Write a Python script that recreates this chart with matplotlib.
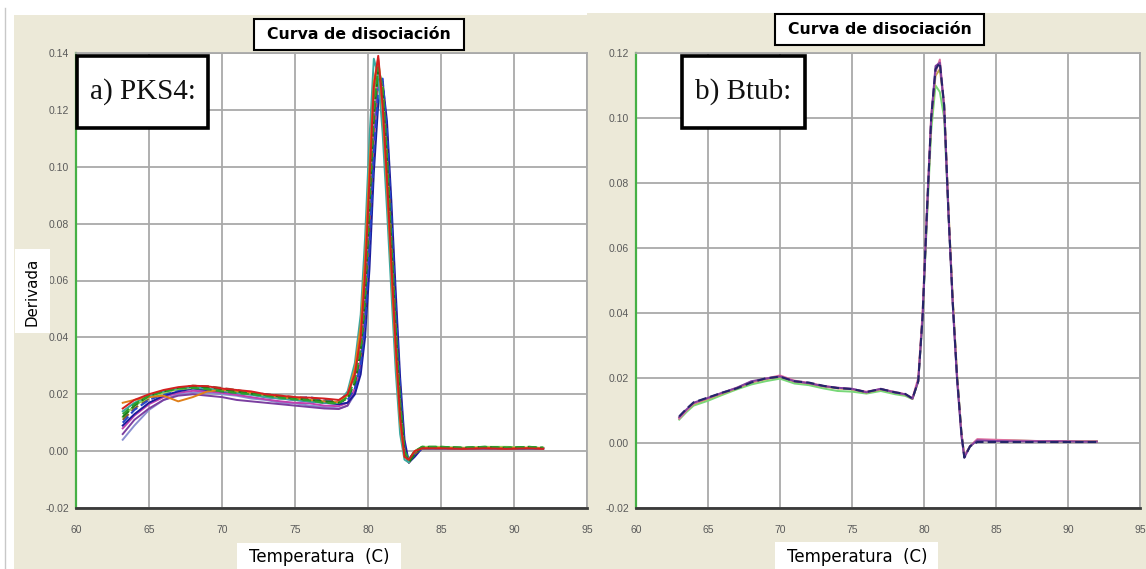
import matplotlib
matplotlib.use("Agg")
import matplotlib.pyplot as plt
from matplotlib.patches import Rectangle
from matplotlib.lines import Line2D
from matplotlib.ticker import MultipleLocator, FuncFormatter

W, H = 1146, 569

# ---------------- data ----------------
T_PKS4 = [63.2, 64.0, 65.0, 66.0, 67.0, 68.0, 69.0, 70.0, 71.0, 72.0, 73.0, 74.0, 75.0, 76.0,
          77.0, 78.0, 78.6, 79.1, 79.5, 79.8, 80.1, 80.4, 80.7, 81.0, 81.3, 81.6, 81.9, 82.2,
          82.5, 82.8, 83.2, 83.7, 85.0, 86.5, 88.0, 89.5, 91.0, 92.0]

pks4_red = [0.015, 0.018, 0.020, 0.0215, 0.0225, 0.023, 0.0228, 0.022, 0.0215, 0.021, 0.020, 0.0195,
            0.019, 0.0188, 0.0185, 0.018, 0.020, 0.027, 0.040, 0.062, 0.095, 0.128, 0.139, 0.122,
            0.096, 0.066, 0.037, 0.012, -0.002, -0.003, 0.000, 0.001, 0.001, 0.0008, 0.001, 0.0008,
            0.001, 0.0008]
pks4_green = [0.013, 0.0165, 0.0195, 0.021, 0.022, 0.0222, 0.0218, 0.021, 0.0205, 0.020, 0.0195,
              0.0188, 0.0182, 0.0178, 0.017, 0.0168, 0.019, 0.025, 0.036, 0.056, 0.088, 0.120, 0.135,
              0.128, 0.103, 0.072, 0.042, 0.016, 0.000, -0.003, 0.000, 0.0015, 0.0015, 0.0012, 0.0015,
              0.0012, 0.0015, 0.0012]
pks4_blue = [0.010, 0.0145, 0.018, 0.020, 0.0215, 0.0225, 0.0225, 0.022, 0.021, 0.0205, 0.020, 0.019,
             0.0185, 0.019, 0.0178, 0.0172, 0.018, 0.022, 0.030, 0.045, 0.072, 0.105, 0.127, 0.131,
             0.112, 0.082, 0.050, 0.022, 0.002, -0.004, -0.001, 0.001, 0.0012, 0.001, 0.0012, 0.001,
             0.001, 0.001]
pks4_navy = [0.009, 0.013, 0.017, 0.0195, 0.021, 0.022, 0.0215, 0.021, 0.0205, 0.020, 0.019, 0.0185,
             0.018, 0.0175, 0.017, 0.0165, 0.017, 0.020, 0.027, 0.040, 0.064, 0.098, 0.122, 0.130,
             0.116, 0.088, 0.056, 0.026, 0.004, -0.004, -0.002, 0.001, 0.001, 0.001, 0.001, 0.001,
             0.001, 0.001]
pks4_purple = [0.006, 0.011, 0.015, 0.018, 0.0195, 0.020, 0.0195, 0.019, 0.018, 0.0175, 0.017, 0.0165,
               0.016, 0.0155, 0.015, 0.0148, 0.016, 0.021, 0.031, 0.050, 0.080, 0.112, 0.130, 0.128,
               0.108, 0.078, 0.047, 0.020, 0.001, -0.004, -0.001, 0.001, 0.001, 0.001, 0.001, 0.001,
               0.001, 0.001]
pks4_orange = [0.017, 0.018, 0.019, 0.0195, 0.0175, 0.019, 0.021, 0.0215, 0.021, 0.0205, 0.0198, 0.019,
               0.0185, 0.018, 0.0175, 0.0172, 0.020, 0.029, 0.044, 0.068, 0.100, 0.130, 0.138, 0.120,
               0.093, 0.063, 0.034, 0.010, -0.002, -0.003, 0.000, 0.001, 0.0012, 0.001, 0.0012, 0.001,
               0.0012, 0.001]
pks4_teal = [0.014, 0.017, 0.0195, 0.021, 0.0222, 0.0225, 0.022, 0.0212, 0.0205, 0.0198, 0.019, 0.0185,
             0.018, 0.0175, 0.017, 0.017, 0.021, 0.031, 0.048, 0.075, 0.110, 0.138, 0.132, 0.112,
             0.085, 0.056, 0.028, 0.006, -0.003, -0.004, 0.000, 0.001, 0.001, 0.001, 0.001, 0.001,
             0.001, 0.001]
pks4_lime = [0.012, 0.016, 0.019, 0.0205, 0.0218, 0.0222, 0.022, 0.0212, 0.0208, 0.020, 0.0192, 0.0185,
             0.0182, 0.0178, 0.0172, 0.017, 0.0195, 0.027, 0.040, 0.060, 0.092, 0.124, 0.137, 0.126,
             0.100, 0.069, 0.039, 0.014, -0.001, -0.003, 0.000, 0.0015, 0.0015, 0.0012, 0.0015, 0.0015,
             0.0012, 0.0012]
pks4_brown = [0.011, 0.015, 0.0185, 0.0205, 0.022, 0.023, 0.0228, 0.0222, 0.0215, 0.0205, 0.020, 0.0195,
              0.019, 0.0185, 0.018, 0.0175, 0.019, 0.024, 0.034, 0.052, 0.082, 0.115, 0.133, 0.129,
              0.106, 0.076, 0.045, 0.018, 0.000, -0.004, -0.001, 0.001, 0.001, 0.001, 0.001, 0.001,
              0.001, 0.001]
pks4_magenta = [0.008, 0.0125, 0.0165, 0.019, 0.0205, 0.0212, 0.021, 0.0205, 0.0198, 0.019, 0.0182,
                0.0175, 0.017, 0.0168, 0.016, 0.0158, 0.017, 0.022, 0.032, 0.050, 0.079, 0.111, 0.131,
                0.129, 0.109, 0.080, 0.049, 0.021, 0.001, -0.004, -0.001, 0.0008, 0.0008, 0.0008,
                0.0008, 0.0008, 0.0008, 0.0008]
pks4_lavender = [0.004, 0.009, 0.0145, 0.018, 0.020, 0.0205, 0.0205, 0.020, 0.0195, 0.0185, 0.018,
                 0.017, 0.0168, 0.016, 0.0155, 0.015, 0.016, 0.020, 0.029, 0.046, 0.076, 0.110, 0.132,
                 0.130, 0.110, 0.080, 0.048, 0.020, 0.001, -0.004, -0.001, 0.001, 0.001, 0.001, 0.001,
                 0.001, 0.001, 0.001]
pks4_darkgreen = [0.012, 0.016, 0.0195, 0.021, 0.0222, 0.0228, 0.0225, 0.0218, 0.021, 0.0202, 0.0198,
                  0.0192, 0.0185, 0.018, 0.0175, 0.017, 0.0185, 0.024, 0.035, 0.054, 0.086, 0.119,
                  0.134, 0.127, 0.103, 0.073, 0.043, 0.017, 0.000, -0.004, -0.001, 0.0015, 0.0015,
                  0.0012, 0.0015, 0.0012, 0.0015, 0.0012]

T_BTUB = [63.0, 63.5, 64.0, 65.0, 66.0, 67.0, 68.0, 69.0, 70.0, 71.0, 72.0, 73.0, 74.0, 75.0, 76.0,
          77.0, 78.0, 78.7, 79.2, 79.6, 79.9, 80.2, 80.5, 80.8, 81.1, 81.4, 81.7, 82.0, 82.3, 82.6,
          82.8, 83.2, 83.7, 85.0, 86.5, 88.0, 89.5, 91.0, 92.0]

btub_pink = [0.0075, 0.0100, 0.0122, 0.0138, 0.0154, 0.0170, 0.0188, 0.0198, 0.0208, 0.0192, 0.0185,
             0.0176, 0.0170, 0.0166, 0.0158, 0.0166, 0.0157, 0.0150, 0.0138, 0.020, 0.040, 0.072,
             0.101, 0.114, 0.118, 0.104, 0.071, 0.043, 0.020, 0.003, -0.004, -0.001, 0.0012, 0.0010,
             0.0008, 0.0006, 0.0006, 0.0005, 0.0005]
btub_purple = [0.0080, 0.0103, 0.0124, 0.0139, 0.0155, 0.0170, 0.0190, 0.0198, 0.0205, 0.0190, 0.0184,
               0.0175, 0.0170, 0.0167, 0.0156, 0.0167, 0.0155, 0.0150, 0.0136, 0.019, 0.038, 0.070,
               0.100, 0.116, 0.117, 0.103, 0.070, 0.042, 0.019, 0.002, -0.0045, -0.001, 0.0008,
               0.0006, 0.0005, 0.0005, 0.0005, 0.0004, 0.0004]
btub_navy = [0.0082, 0.0105, 0.0125, 0.0140, 0.0155, 0.0168, 0.0186, 0.0199, 0.0204, 0.0190, 0.0186,
             0.0176, 0.0169, 0.0166, 0.0157, 0.0166, 0.0156, 0.0151, 0.0137, 0.019, 0.039, 0.071,
             0.100, 0.115, 0.117, 0.104, 0.071, 0.043, 0.020, 0.003, -0.0045, -0.001, 0.0003, 0.0003,
             0.0003, 0.0003, 0.0003, 0.0003, 0.0003]
btub_green = [0.0072, 0.0095, 0.0115, 0.0130, 0.0148, 0.0165, 0.0180, 0.0190, 0.0198, 0.0183, 0.0178,
              0.0168, 0.0160, 0.0158, 0.0152, 0.0160, 0.0150, 0.0145, 0.0135, 0.019, 0.038, 0.068,
              0.096, 0.110, 0.108, 0.100, 0.070, 0.043, 0.020, 0.003, -0.004, -0.001, 0.0008, 0.0008,
              0.0007, 0.0006, 0.0006, 0.0005, 0.0005]
btub_olive = [0.0078, 0.0100, 0.0120, 0.0136, 0.0152, 0.0168, 0.0186, 0.0196, 0.0204, 0.0189, 0.0183,
              0.0174, 0.0168, 0.0165, 0.0155, 0.0165, 0.0155, 0.0149, 0.0136, 0.019, 0.039, 0.070,
              0.099, 0.113, 0.115, 0.104, 0.072, 0.044, 0.021, 0.003, -0.004, -0.001, 0.0010, 0.0008,
              0.0007, 0.0006, 0.0005, 0.0005, 0.0005]

X_TICKS = [60, 65, 70, 75, 80, 85, 90, 95]
TITLE = "Curva de disociación"
X_LABEL = "Temperatura  (C)"
Y_LABEL = "Derivada"

pks4_series = [
    (pks4_lavender, "#8a8fd0", "-"),
    (pks4_purple, "#7b3fa0", "-"),
    (pks4_magenta, "#c040b0", "-"),
    (pks4_navy, "#1c1c9c", "-"),
    (pks4_brown, "#8b5a2b", "--"),
    (pks4_blue, "#2846c8", "--"),
    (pks4_lime, "#8fd35a", "-"),
    (pks4_teal, "#3aa8a0", "-"),
    (pks4_orange, "#e0801a", "-"),
    (pks4_darkgreen, "#1a7a1a", "--"),
    (pks4_green, "#2ca02c", "--"),
    (pks4_red, "#d42020", "-"),
]
btub_series = [
    (btub_green, "#78d878", "-"),
    (btub_olive, "#b8a848", "-"),
    (btub_pink, "#e070a0", "-"),
    (btub_purple, "#8040a0", "-"),
    (btub_navy, "#25256a", "--"),
]

# ---------------- figure ----------------
fig = plt.figure(figsize=(W / 100, H / 100), dpi=100)
fig.patch.set_facecolor("white")

BEIGE = "#ece9d8"
GRID = "#a9a9a9"


def fx(px):
    return px / W


def fy(py):
    return 1 - py / H


def frect(x0, y0, x1, y1, **kw):
    r = Rectangle((fx(x0), fy(y1)), fx(x1) - fx(x0), fy(y0) - fy(y1),
                  transform=fig.transFigure, **kw)
    fig.add_artist(r)
    return r


# window backgrounds
frect(14, 15, 587, H, facecolor=BEIGE, edgecolor="none", zorder=0)
frect(587, 13, W, H, facecolor=BEIGE, edgecolor="none", zorder=0)
fig.add_artist(Line2D([fx(5), fx(5)], [fy(8), fy(H)], transform=fig.transFigure,
                      color="#c8c8c8", lw=1.0, zorder=1))

tick_family = ["Liberation Sans Narrow", "Liberation Sans", "DejaVu Sans"]


def make_axes(px_left, px_right, ymax, series, xdata):
    ax = fig.add_axes([fx(px_left), fy(508), fx(px_right) - fx(px_left), fy(53) - fy(508)])
    ax.set_facecolor("white")
    for ys, col, ls in series:
        if ls == "--":
            ax.plot(xdata, ys, color=col, lw=1.5, dashes=(4, 2), zorder=3)
        else:
            ax.plot(xdata, ys, color=col, lw=1.4, zorder=3)
    ax.set_xlim(60, 95)
    ax.set_ylim(-0.02, ymax)
    ax.set_xticks(X_TICKS)
    ax.yaxis.set_major_locator(MultipleLocator(0.02))
    ax.yaxis.set_major_formatter(FuncFormatter(lambda v, p: f"{v:.2f}"))
    ax.grid(True, color=GRID, lw=1.3, zorder=1)
    ax.set_axisbelow(True)
    ax.tick_params(length=0, pad=5)
    ax.tick_params(axis="x", pad=12)
    for lab in ax.get_xticklabels() + ax.get_yticklabels():
        lab.set_fontfamily(tick_family)
        lab.set_fontsize(7.5)
        lab.set_color("#5a5a5a")
    ax.spines["left"].set_color("#45b045")
    ax.spines["left"].set_linewidth(1.6)
    ax.spines["bottom"].set_color("#3a3a3a")
    ax.spines["bottom"].set_linewidth(2.0)
    for s in ("top", "right"):
        ax.spines[s].set_color(GRID)
        ax.spines[s].set_linewidth(1.3)
    return ax


ax1 = make_axes(76, 587, 0.14, pks4_series, T_PKS4)
ax2 = make_axes(636, 1140, 0.12, btub_series, T_BTUB)


def boxed_text(x0, y0, x1, y1, text, lw, **tkw):
    frect(x0, y0, x1, y1, facecolor="white", edgecolor="black", lw=lw, zorder=10)
    fig.text(fx((x0 + x1) / 2), fy((y0 + y1) / 2), text, ha="center", va="center",
             zorder=11, **tkw)


title_kw = dict(family="DejaVu Sans", fontweight="bold", fontsize=11.3, color="black")
boxed_text(254, 19, 464, 50, TITLE, 1.5, **title_kw)
boxed_text(775, 14, 984, 45, TITLE, 1.5, **title_kw)

panel_kw = dict(family=["Liberation Serif", "DejaVu Serif"], fontsize=21, color="#111111")
boxed_text(77, 56, 208, 128, "a) PKS4:", 2.6, **panel_kw)
boxed_text(682, 56, 805, 128, "b) Btub:", 2.6, **panel_kw)

# axis labels on white patches
frect(15, 249, 50, 333, facecolor="white", edgecolor="none", zorder=10)
fig.text(fx(32), fy(292), Y_LABEL, rotation=90, ha="center", va="center", zorder=11,
         family="DejaVu Sans", fontsize=10.8, color="black")

xlabel_kw = dict(family="DejaVu Sans", fontsize=12, color="black")
frect(237, 543, 401, H, facecolor="white", edgecolor="none", zorder=10)
fig.text(fx(319), fy(557), X_LABEL, ha="center", va="center", zorder=11, **xlabel_kw)
frect(775, 542, 938, H, facecolor="white", edgecolor="none", zorder=10)
fig.text(fx(857), fy(557), X_LABEL, ha="center", va="center", zorder=11, **xlabel_kw)

fig.savefig("out.png", dpi=100, facecolor=fig.get_facecolor())
